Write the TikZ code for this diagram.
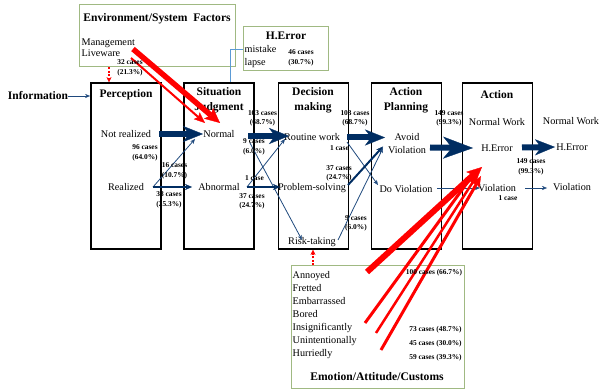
\documentclass[tikz,border=0pt]{standalone}
\usepackage{fontspec}
\setmainfont{Liberation Serif}
\usetikzlibrary{arrows.meta,calc}
\definecolor{navy}{RGB}{0,45,98}
\definecolor{thinblue}{RGB}{31,73,125}
\definecolor{boxgreen}{RGB}{160,185,130}
\definecolor{lightblue}{RGB}{91,155,213}
\definecolor{red1}{RGB}{255,0,0}
\begin{document}
\begin{tikzpicture}[x=1pt,y=-1pt,
  txt/.style={font=\fontsize{10.2}{13}\selectfont, inner sep=0.5pt},
  ttl/.style={font=\fontsize{11.5}{15}\selectfont\bfseries, align=center, inner sep=0pt},
  lbl/.style={font=\fontsize{7.4}{9.5}\selectfont\bfseries, align=center, inner sep=0pt},
  stagebox/.style={draw=black, line width=1.8pt, minimum width=70pt, minimum height=166pt, inner sep=0pt},
  grnbox/.style={draw=boxgreen, line width=1pt, inner sep=0pt},
  bigarrow/.style={draw=navy, line width=6pt, -{Stealth[length=20pt,width=16pt,inset=6pt,line width=0.3pt]}},
  hugearrow/.style={draw=navy, line width=6pt, -{Stealth[length=30pt,width=22pt,inset=9pt,line width=0.3pt]}},
  medarrow/.style={draw=navy, line width=2pt, -{Stealth[length=7pt,width=6pt,line width=0.3pt]}},
  thinarrow/.style={draw=thinblue, line width=0.8pt, -{Stealth[length=5pt,width=4pt,line width=0.3pt]}},
  redthick/.style={draw=red1, line width=5.5pt, -{Stealth[length=15pt,width=14pt,inset=3pt,line width=0.3pt]}},
  redthin/.style={draw=red1, line width=2.6pt, -{Stealth[length=11pt,width=9pt,inset=2pt,line width=0.3pt]}},
  reddash/.style={draw=red1, line width=1.3pt, dash pattern=on 2pt off 1.5pt, -{Stealth[length=5pt,width=5pt,line width=0.3pt]}}
]
\useasboundingbox (0,0) rectangle (600,390);

% boxes
\node[stagebox] (percbox) at (126,166) {};
\node[stagebox] (sjbox) at (219,166) {};
\node[stagebox] (dmbox) at (313.5,166) {};
\node[stagebox] (apbox) at (406.5,166) {};
\node[stagebox] (actbox) at (497.5,166) {};
\node[grnbox, minimum width=156pt, minimum height=62pt] (envbox) at (157,36) {};
\node[grnbox, minimum width=85pt, minimum height=44pt] (herrbox) at (285.5,49) {};
\node[grnbox, minimum width=173pt, minimum height=122pt] (emobox) at (377.5,327) {};

% titles
\node[ttl] (info) at (38,96) {Information};
\node[ttl] (perct) at (126,95) {Perception};
\node[ttl] (sjt) at (219,100.5) {Situation\\Judgment};
\node[ttl] (dmt) at (313,100.5) {Decision\\making};
\node[ttl] (apt) at (406,100.5) {Action\\Planning};
\node[ttl] (actt) at (497,95) {Action};
\node[ttl, font=\fontsize{11.6}{13}\selectfont\bfseries] (envt) at (157,19) {Environment/System\ \ Factors};
\node[ttl, font=\fontsize{11.5}{13}\selectfont\bfseries] (herrt) at (286,36) {H.Error};
\node[ttl, font=\fontsize{11.6}{13}\selectfont\bfseries] (emot) at (377,377) {Emotion/Attitude/Customs};

% texts
\node[txt] (notreal) at (126,134) {Not realized};
\node[txt] (realized) at (126,187) {Realized};
\node[txt] (normal) at (219,134) {Normal};
\node[txt] (abnormal) at (219,187) {Abnormal};
\node[txt] (routine) at (312,137) {Routine work};
\node[txt] (problem) at (312,188) {Problem-solving};
\node[txt] (risk) at (312,242) {Risk-taking};
\node[txt, align=center] (avoid) at (407,143.5) {Avoid\\Violation};
\node[txt] (dov) at (406,189) {Do Violation};
\node[txt] (nw1) at (497,122) {Normal Work};
\node[txt] (he1) at (497,148) {H.Error};
\node[txt] (vio1) at (497,188) {Violation};
\node[txt] (nw2) at (571,121) {Normal Work};
\node[txt] (he2) at (572,147) {H.Error};
\node[txt] (vio2) at (572,187) {Violation};
\node[txt, anchor=west, align=left, font=\fontsize{10.2}{11.5}\selectfont] (envlist) at (81,47.75) {Management\\Liveware};
\node[txt, anchor=west, align=left] (herrlist) at (244,56.5) {mistake\\lapse};
\node[txt, anchor=west, align=left] (emolist) at (292,315) {Annoyed\\Fretted\\Embarrassed\\Bored\\Insignificantly\\Unintentionally\\Hurriedly};

% connectors
\draw[thinarrow] (info.east) -- (info -| percbox.west);
\draw[lightblue, line width=0.8pt] (herrbox.west) -| ($(sjbox.north)+(11,0)$);
\draw[reddash] ($(envbox.south)+(-48,0)$) -- ($(percbox.north)+(-17,0)$);
\draw[reddash] ($(emobox.north)+(-64.5,0)$) -- ($(dmbox.south)+(-0.5,0)$);

\draw[thinarrow] ($(realized)+(27,0)$) -- ($(normal)+(-24,5)$);
\draw[medarrow] ($(realized)+(27,0)$) -- ($(abnormal)+(-27,0)$);
\draw[thinarrow] ($(normal)+(31,9)$) -- ($(risk)+(-10,-2)$);
\draw[thinarrow] ($(abnormal)+(28,0)$) -- ($(routine)+(-27,2)$);
\draw[medarrow] ($(abnormal)+(28,0)$) -- ($(problem)+(-32,-1)$);
\draw[thinarrow] ($(routine)+(35,5)$) -- ($(dov)+(-28,-4)$);
\draw[medarrow] ($(problem)+(36,-3)$) -- ($(avoid)+(-24,3)$);
\draw[thinarrow] ($(risk)+(26,-2)$) -- ($(avoid)+(-24,4.5)$);
\draw[thinarrow] ($(dov)+(31,-1)$) -- ($(vio1)+(-17,0)$);
\draw[thinarrow] ($(vio1)+(28,0)$) -- ($(vio2)+(-25,1)$);

\draw[bigarrow] ($(notreal)+(33,0)$) -- ($(normal)+(-16,0)$);
\draw[bigarrow] ($(normal)+(29,2)$) -- ($(routine)+(-23,-1)$);
\draw[bigarrow] ($(routine)+(35,0.5)$) -- ($(avoid)+(-22,-6)$);
\draw[hugearrow] ($(avoid)+(23,4)$) -- ($(he1)+(-24,0)$);
\draw[bigarrow] ($(he1)+(25,-0.5)$) -- ($(he2)+(-17,0)$);

\draw[redthick] ($(envbox)+(-24,13)$) -- ($(normal)+(1,-11)$);
\draw[redthin, line width=2pt] ($(envbox)+(-26,22)$) -- ($(normal)+(-14,-11)$);
\draw[redthick, line width=6pt] ($(emobox)+(-10.5,-55)$) -- ($(he1)+(-15,19)$);
\draw[redthin, line width=3pt] ($(emobox)+(-12.5,-4)$) -- ($(he1)+(-22,24)$);
\draw[redthin, line width=2.5pt] ($(emobox)+(-1.5,6)$) -- ($(he1)+(-19,26)$);
\draw[redthin, line width=3pt] ($(emobox)+(3.5,23)$) -- ($(he1)+(-16,28)$);

% labels
\node[lbl] (l1) at (130,68) {32 cases\\(21.3\%)};
\node[lbl] (l2) at (145,153) {96 cases\\(64.0\%)};
\node[lbl] (l3) at (174.5,171) {16 cases\\(10.7\%)};
\node[lbl] (l4) at (169,200) {38 cases\\(25.3\%)};
\node[lbl] (l5) at (262.5,118.5) {103 cases\\(68.7\%)};
\node[lbl] (l6) at (254,147) {9 cases\\(6.0\%)};
\node[lbl] (l7) at (254.5,178) {1 case};
\node[lbl] (l8) at (252,201.5) {37 cases\\(24.7\%)};
\node[lbl] (l9) at (355,118.5) {103 cases\\(68.7\%)};
\node[lbl] (l10) at (339.5,148) {1 case};
\node[lbl] (l11) at (339,173.5) {37 cases\\(24.7\%)};
\node[lbl] (l12) at (356,223.5) {9 cases\\(6.0\%)};
\node[lbl] (l13) at (449,118.5) {149 cases\\(99.3\%)};
\node[lbl] (l14) at (508,198) {1 case};
\node[lbl] (l15) at (531,167) {149 cases\\(99.3\%)};
\node[lbl] (l16) at (301,58) {46 cases\\(30.7\%)};
\node[lbl] (l17) at (434,273) {100 cases (66.7\%)};
\node[lbl] (l18) at (435.5,330) {73 cases (48.7\%)};
\node[lbl] (l19) at (435.5,344) {45 cases (30.0\%)};
\node[lbl] (l20) at (435.5,358) {59 cases (39.3\%)};
\end{tikzpicture}
\end{document}
